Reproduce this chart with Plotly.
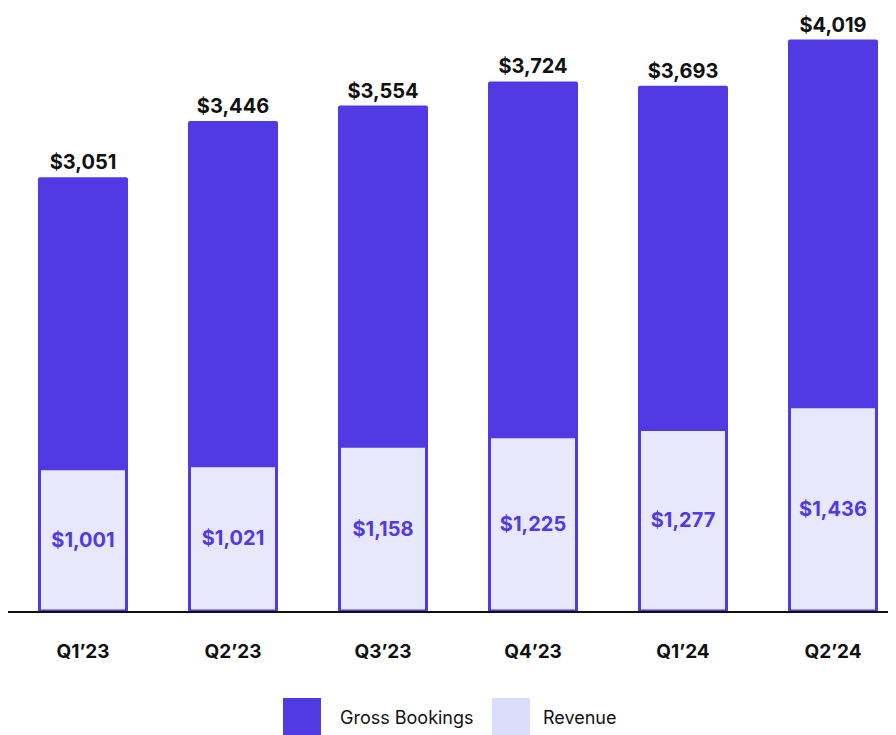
import plotly.graph_objects as go

quarters = ["Q1’23", "Q2’23", "Q3’23", "Q4’23", "Q1’24", "Q2’24"]
gross_bookings = [3051, 3446, 3554, 3724, 3693, 4019]
revenue = [1001, 1021, 1158, 1225, 1277, 1436]

W, H = 896, 735
OFF = 8  # page body margin
ML, MR, MT, MB = 0, 0, 0, 132
PW, PH = W - ML - MR, H - MT - MB

def px_x(px):
    return (px - OFF - ML) / PW

def px_y(py):
    return (H - MB - (py - OFF)) / PH

PURPLE = "#5139E3"
LAV = "#E8E8FD"
LAV_LEG = "#DCDCFB"
FONT = "Inter"

fig = go.Figure()
fig.add_trace(go.Bar(
    x=quarters, y=gross_bookings, width=0.6,
    marker=dict(color=PURPLE, line=dict(width=0), cornerradius=2),
    text=[f"${v:,}" for v in gross_bookings], textposition="outside",
    textfont=dict(family=FONT, size=20, color="#111111", weight="bold"),
    cliponaxis=False, showlegend=False,
))
fig.add_trace(go.Bar(
    x=quarters, y=revenue, width=0.58,
    marker=dict(color=LAV, line=dict(color=PURPLE, width=3)),
    text=[f"${v:,}" for v in revenue], textposition="inside",
    insidetextanchor="middle",
    textfont=dict(family=FONT, size=20, color=PURPLE, weight="bold"),
    showlegend=False,
))

shapes = []
annotations = []
legend_items = [("Gross Bookings", PURPLE, 283, 338), ("Revenue", LAV_LEG, 492, 541)]
for name, col, sx, tx in legend_items:
    shapes.append(dict(type="rect", xref="paper", yref="paper",
                       x0=px_x(sx), x1=px_x(sx + 38), y0=px_y(744), y1=px_y(698),
                       fillcolor=col, line=dict(width=0)))
    annotations.append(dict(xref="paper", yref="paper", x=px_x(tx), y=px_y(717),
                            text=name, showarrow=False, xanchor="left", yanchor="middle",
                            font=dict(family=FONT, size=18, color="#111111")))

fig.update_layout(
    width=W, height=H, barmode="overlay",
    margin=dict(l=ML, r=MR, t=MT, b=MB),
    plot_bgcolor="white", paper_bgcolor="white",
    xaxis=dict(range=[-0.5, -0.5 + PW / 150], showline=True, linecolor="#111111", linewidth=1.5,
               showgrid=False, ticks="", ticklabelstandoff=22,
               tickfont=dict(family=FONT, size=19, color="#111111", weight="bold")),
    yaxis=dict(range=[0, 603 / 0.1422], visible=False, showgrid=False),
    shapes=shapes, annotations=annotations,
)
fig.write_html("out.html")
